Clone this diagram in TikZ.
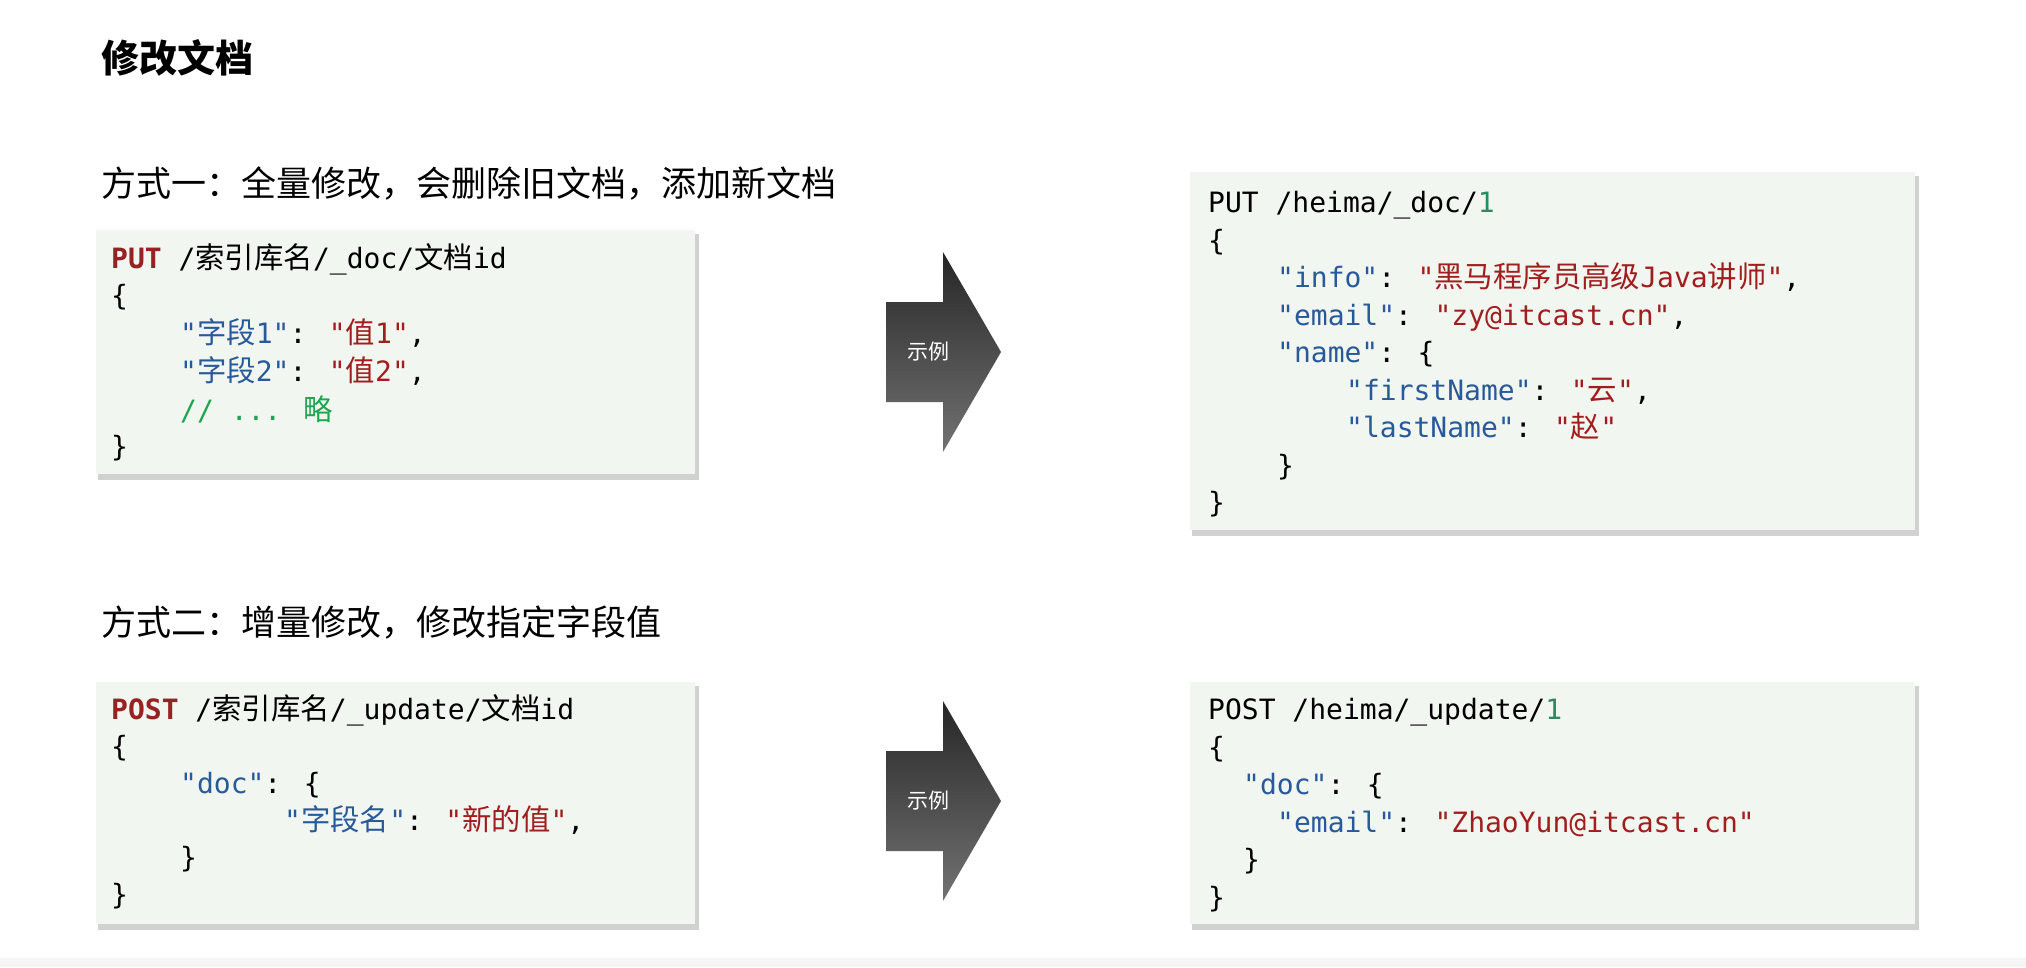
\documentclass[tikz,border=0pt]{standalone}
\usepackage{fontspec}
\setmainfont{Noto Sans CJK SC}
\newfontfamily\mono{DejaVu Sans Mono}
\newfontfamily\cjk{Noto Sans CJK SC}[Scale=1.05]
\newcommand{\Cj}[1]{{\cjk #1}}
\definecolor{keyc}{RGB}{40,90,155}
\definecolor{strc}{RGB}{160,30,30}
\definecolor{kwc}{RGB}{150,35,35}
\definecolor{cmc}{RGB}{30,165,80}
\definecolor{numc}{RGB}{40,140,95}
\definecolor{boxc}{RGB}{242,246,240}
\begin{document}
\begin{tikzpicture}[x=1pt,y=-1pt,
  code/.style={anchor=base west,inner sep=0pt,font=\mono\fontsize{28}{30}\selectfont},
  head/.style={anchor=west,inner sep=0pt,font=\fontsize{35}{40}\selectfont},
  box/.style={fill=boxc,draw=none},
  shadow/.style={fill=black!18,draw=none},
  arrowsh/.style={top color=black!85,bottom color=black!55,draw=none}]
\useasboundingbox (0,0) rectangle (2026,967);
\fill[black!4] (0,958) rectangle (2026,967);
\newcommand{\K}[1]{\textcolor{keyc}{#1}}
\newcommand{\Sv}[1]{\textcolor{strc}{#1}}
% title and headings
\node[head,font=\bfseries\fontsize{38}{42}\selectfont] (title) at (101,58) {修改文档};
\node[head] (h1) at (101,183) {方式一：全量修改，会删除旧文档，添加新文档};
\node[head] (h2) at (101,623) {方式二：增量修改，修改指定字段值};
% boxes
\foreach \n/\xa/\ya/\xb/\yb in {b1/96/230/695/474, b2/1190/172/1915/530, b3/96/682/695/924, b4/1190/682/1915/924}{
  \fill[shadow] (\xa+2,\ya+4) rectangle (\xb+4,\yb+6);
  \path[box] (\xa,\ya) rectangle (\xb,\yb);
}
% arrows
\foreach \n/\c in {a1/352, a2/801}{
  \path[arrowsh] (886,\c-50) -- (943,\c-50) -- (943,\c-100) -- (1001,\c) -- (943,\c+100) -- (943,\c+50) -- (886,\c+50) -- cycle;
  \node[text=white,font=\fontsize{21}{23}\selectfont] (\n) at (928,\c) {示例};
}
% box 1
\node[code] (l11) at (111,268) {\textcolor{kwc}{\bfseries PUT} /\Cj{索引库名}/\_doc/\Cj{文档}id};
\node[code] (l12) at (111,305) {\{};
\node[code] (l13) at (180,343) {\K{"\Cj{字段}1"}: \Sv{"\Cj{值}1"},};
\node[code] (l14) at (180,381) {\K{"\Cj{字段}2"}: \Sv{"\Cj{值}2"},};
\node[code] (l15) at (180,420) {\textcolor{cmc}{// ... \Cj{略}}};
\node[code] (l16) at (111,456) {\}};
% box 2
\node[code] (l21) at (1208,212) {PUT /heima/\_doc/\textcolor{numc}{1}};
\node[code] (l22) at (1208,250) {\{};
\node[code] (l23) at (1277,287) {\K{"info"}: \Sv{"\Cj{黑马程序员高级}Java\Cj{讲师}"},};
\node[code] (l24) at (1277,325) {\K{"email"}: \Sv{"zy@itcast.cn"},};
\node[code] (l25) at (1277,362) {\K{"name"}: \{};
\node[code] (l26) at (1346,400) {\K{"firstName"}: \Sv{"\Cj{云}"},};
\node[code] (l27) at (1346,437) {\K{"lastName"}: \Sv{"\Cj{赵}"}};
\node[code] (l28) at (1277,475) {\}};
\node[code] (l29) at (1208,512) {\}};
% box 3
\node[code] (l31) at (111,719) {\textcolor{kwc}{\bfseries POST} /\Cj{索引库名}/\_update/\Cj{文档}id};
\node[code] (l32) at (111,756) {\{};
\node[code] (l33) at (180,793) {\K{"doc"}: \{};
\node[code] (l34) at (284,830) {\K{"\Cj{字段名}"}: \Sv{"\Cj{新的值}"},};
\node[code] (l35) at (180,867) {\}};
\node[code] (l36) at (111,904) {\}};
% box 4
\node[code] (l41) at (1208,719) {POST /heima/\_update/\textcolor{numc}{1}};
\node[code] (l42) at (1208,757) {\{};
\node[code] (l43) at (1243,794) {\K{"doc"}: \{};
\node[code] (l44) at (1277,832) {\K{"email"}: \Sv{"ZhaoYun@itcast.cn"}};
\node[code] (l45) at (1243,869) {\}};
\node[code] (l46) at (1208,907) {\}};
\end{tikzpicture}
\end{document}
